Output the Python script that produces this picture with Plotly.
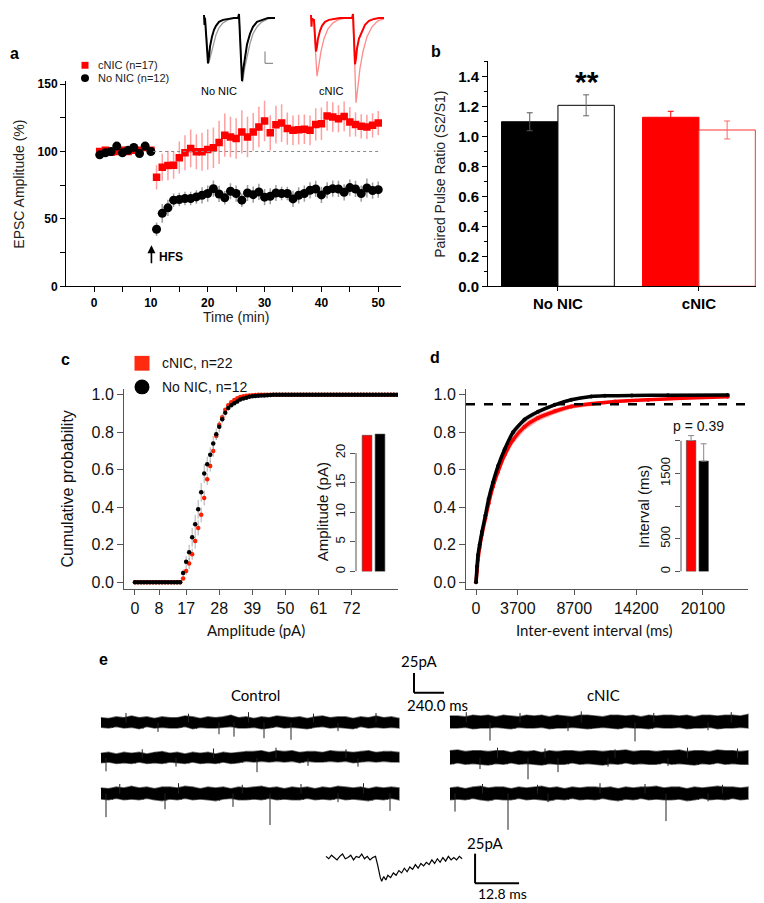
import plotly.graph_objects as go

W, H = 764, 903
ARIAL = "Liberation Sans, Arial, sans-serif"
CAL = "Lato, sans-serif"

# ---------------- Panel a: LTP time course ----------------
time_min = list(range(1, 51))
cnic_amp = [100, 101, 99.5, 100, 101, 100, 101, 101, 103, 101,
            80.8, 88.3, 89.6, 89.8, 95.4, 99.1, 102.3, 99.8, 99.8, 101.5,
            102.8, 106.7, 112.1, 110.8, 109.6, 114.5, 110.8, 114.5, 118.2, 122.6,
            113.8, 119.9, 121.1, 117.0, 115.7, 116.2, 116.5, 115.7, 120.1, 120.6,
            126.3, 125.5, 124.3, 126.0, 121.9, 120.1, 118.7, 118.2, 119.4, 121.1]
cnic_err = [2, 2, 2, 2, 2, 2, 2, 2, 2, 2,
            9, 10, 11, 10, 12, 13, 14, 13, 14, 15,
            15, 16, 16, 15, 15, 16, 15, 14, 15, 15,
            13, 14, 14, 12, 11, 11, 11, 11, 12, 12,
            11, 11, 10, 11, 11, 9, 9, 9, 9, 9]
nonic_amp = [97.5, 99, 100, 104, 99, 101, 103, 98.5, 104, 100,
             42.3, 54.1, 58.2, 63.9, 64.4, 65.1, 65.1, 66.3, 67.5, 68.8,
             72.4, 68.5, 65.6, 70.5, 68.8, 63.9, 69.2, 68.0, 70.0, 66.1,
             66.8, 69.2, 68.8, 68.8, 64.8, 67.5, 68.8, 71.2, 72.2, 67.8,
             71.2, 72.4, 72.2, 69.7, 73.2, 72.2, 68.8, 72.9, 71.0, 71.7]
nonic_err = [2, 2, 2, 2, 2, 2, 2, 2, 2, 2,
             5, 7, 6, 5, 5, 5, 5, 5, 6, 6,
             6, 6, 5, 6, 6, 5, 6, 6, 6, 6,
             6, 6, 5, 5, 6, 6, 6, 6, 6, 6,
             6, 6, 6, 6, 6, 6, 6, 7, 6, 6]
a_xticks = [0, 10, 20, 30, 40, 50]
a_yticks = [0, 50, 100, 150]

# example paired-pulse EPSC traces (inset of panel a)
nonic_tr_x = [6, 6.5, 7, 8, 9, 10, 11, 12, 14, 16, 18, 21, 25, 30, 36, 40, 41, 42, 43, 44, 45, 47, 49, 52, 55, 59, 64, 70, 77]
nonic_tr_y = [2, -8, -1, -15, -35, -47, -40, -30, -20, -13, -9, -5, -3, -2, -1, -1, 3, -20, -45, -65, -55, -40, -28, -17, -10, -5, -3, -1, -1]
nonic_tr2_x = [7, 8, 9, 10.5, 12, 14, 16, 18, 21, 25, 30, 36, 41, 42, 43, 44.5, 47, 49, 52, 55, 59, 64, 70, 77]
nonic_tr2_y = [-1, -12, -30, -47, -42, -33, -25, -18, -11, -6, -3, -1, -1, -15, -40, -66, -50, -40, -27, -17, -10, -5, -2, -1]
cnic_tr_x = [113, 113.5, 114, 116, 117, 118, 119, 120, 122, 124, 127, 131, 136, 142, 148, 154, 155, 156, 157, 158, 159, 161, 164, 167, 171, 176, 181, 186]
cnic_tr_y = [2, -10, -2, -3, -20, -35, -30, -22, -14, -9, -5, -3, -2, -1, -1, -1, 3, -25, -48, -42, -32, -22, -14, -8, -4, -2, -1, -1]
cnic_tr2_x = [114, 116, 117.5, 119, 121, 123, 126, 130, 135, 140, 148, 155, 156.5, 158, 160, 162, 165, 169, 174, 180, 186]
cnic_tr2_y = [-1, -5, -35, -60, -48, -35, -22, -12, -6, -3, -1, -1, -40, -87, -70, -52, -35, -20, -10, -4, -2]

# ---------------- Panel b: paired pulse ratio ----------------
ppr_groups = ["No NIC", "cNIC"]
ppr_filled = [1.10, 1.13]
ppr_filled_err = [0.06, 0.04]
ppr_open = [1.21, 1.045]
ppr_open_err = [0.07, 0.06]
b_yticks = [0.0, 0.2, 0.4, 0.6, 0.8, 1.0, 1.2, 1.4]

# ---------------- Panel c: amplitude cumulative ----------------
amp_pa = list(range(0, 88))
amp_cdf_nonic = [0, 0, 0, 0, 0, 0, 0, 0, 0, 0, 0, 0, 0, 0, 0, 0,
                 0.05, 0.11, 0.16, 0.24, 0.31, 0.39, 0.48, 0.58, 0.63, 0.68,
                 0.74, 0.79, 0.83, 0.87, 0.905, 0.93, 0.945, 0.955, 0.965, 0.975,
                 0.98, 0.985, 0.99, 0.992, 0.994, 0.995, 0.996, 0.997, 0.998, 0.999,
                 1, 1, 1, 1, 1, 1, 1, 1, 1, 1, 1, 1, 1, 1, 1, 1, 1, 1, 1, 1, 1,
                 1, 1, 1, 1, 1, 1, 1, 1, 1, 1, 1, 1, 1, 1, 1, 1, 1, 1, 1, 1, 1]
amp_cdf_cnic = [0, 0, 0, 0, 0, 0, 0, 0, 0, 0, 0, 0, 0, 0, 0, 0,
                0.02, 0.06, 0.10, 0.15, 0.22, 0.29, 0.36, 0.45, 0.55, 0.62,
                0.70, 0.78, 0.84, 0.88, 0.92, 0.945, 0.96, 0.972, 0.982, 0.988,
                0.992, 0.995, 0.997, 0.998, 0.999,
                1, 1, 1, 1, 1, 1, 1, 1, 1, 1, 1, 1, 1, 1, 1, 1, 1, 1, 1, 1, 1, 1, 1,
                1, 1, 1, 1, 1, 1, 1, 1, 1, 1, 1, 1, 1, 1, 1, 1, 1, 1, 1, 1, 1, 1, 1]
amp_err_nonic = [0, 0, 0, 0, 0, 0, 0, 0, 0, 0, 0, 0, 0, 0, 0, 0,
                 0.02, 0.03, 0.04, 0.05, 0.05, 0.05, 0.05, 0.05, 0.04, 0.04,
                 0.04, 0.03, 0.03, 0.02, 0.02, 0.015, 0.01, 0.01, 0.01, 0.01,
                 0.005, 0.005, 0.005, 0.005, 0, 0, 0, 0, 0, 0,
                 0, 0, 0, 0, 0, 0, 0, 0, 0, 0, 0, 0, 0, 0, 0, 0, 0, 0, 0, 0, 0,
                 0, 0, 0, 0, 0, 0, 0, 0, 0, 0, 0, 0, 0, 0, 0, 0, 0, 0, 0, 0, 0]
amp_err_cnic = [0, 0, 0, 0, 0, 0, 0, 0, 0, 0, 0, 0, 0, 0, 0, 0,
                0.01, 0.02, 0.03, 0.03, 0.04, 0.04, 0.04, 0.04, 0.03, 0.03,
                0.03, 0.02, 0.02, 0.02, 0.01, 0.01, 0.01, 0.005, 0.005, 0.005,
                0, 0, 0, 0, 0,
                0, 0, 0, 0, 0, 0, 0, 0, 0, 0, 0, 0, 0, 0, 0, 0, 0, 0, 0, 0, 0, 0, 0,
                0, 0, 0, 0, 0, 0, 0, 0, 0, 0, 0, 0, 0, 0, 0, 0, 0, 0, 0, 0, 0, 0, 0]
c_xticks = [0, 8, 17, 28, 39, 50, 61, 72]
cd_yticks = [0.0, 0.2, 0.4, 0.6, 0.8, 1.0]
amp_groups = ["cNIC", "No NIC"]
amp_means = [23.0, 23.2]
amp_inset_ticks = [0, 5, 10, 15, 20]

# ---------------- Panel d: inter-event interval cumulative ----------------
iei_ms_nonic = [0, 90, 180, 320, 530, 830, 1120, 1500, 1950, 2540, 3280, 4300, 5490, 6970, 8440, 10200, 11400, 13800, 17000, 22300]
iei_cdf_nonic = [0.0, 0.085, 0.146, 0.20, 0.27, 0.357, 0.445, 0.533, 0.62, 0.71, 0.80, 0.868, 0.91, 0.947, 0.974, 0.991, 0.995, 0.997, 0.998, 0.999]
iei_err_nonic = [0.0, 0.01, 0.012, 0.015, 0.015, 0.018, 0.02, 0.02, 0.02, 0.02, 0.018, 0.015, 0.012, 0.01, 0.008, 0.005, 0.004, 0.003, 0.003, 0.003]
iei_ms_cnic = [0, 90, 180, 320, 530, 830, 1120, 1500, 1950, 2540, 3280, 4300, 5490, 6970, 8440, 10200, 12300, 15250, 18200, 22300]
iei_cdf_cnic = [0.0, 0.06, 0.12, 0.185, 0.255, 0.34, 0.42, 0.51, 0.59, 0.68, 0.76, 0.83, 0.877, 0.912, 0.938, 0.952, 0.965, 0.974, 0.982, 0.99]
iei_err_cnic = [0.0, 0.01, 0.015, 0.02, 0.02, 0.022, 0.025, 0.025, 0.025, 0.025, 0.022, 0.02, 0.018, 0.015, 0.012, 0.01, 0.008, 0.007, 0.006, 0.005]
d_xticks = [0, 3700, 8700, 14200, 20100]
d_xticktext = ["0", "3700", "8700", "14200", "20100"]
iei_threshold = 0.95
int_groups = ["cNIC", "No NIC"]
int_means = [2005, 1690]
int_err = [75, 265]
int_ticks = [0, 500, 1000, 1500, 2000]
int_ticktext = ["0", "500", "", "1500", ""]

# ---------------- Panel e: sEPSC example traces ----------------
SWEEP_MS = 2384
ctrl_hi = [
    [6, 5, 7, 6, 8, 6, 7, 5, 7, 6, 6, 8, 7, 5, 7, 6, 7, 9, 6, 7, 5, 7, 6, 8, 7, 6, 7, 5, 7, 8, 6, 7, 7, 5, 7, 6, 8, 6, 7, 5],
    [6, 7, 5, 7, 6, 7, 5, 7, 8, 6, 7, 5, 7, 6, 7, 5, 7, 6, 7, 8, 8, 9, 7, 9, 8, 9, 7, 8, 8, 7, 9, 8, 8, 7, 8, 9, 7, 8, 8, 7],
    [7, 6, 8, 7, 9, 7, 8, 6, 8, 8, 7, 9, 8, 6, 8, 7, 8, 6, 8, 7, 8, 9, 7, 8, 6, 8, 7, 8, 6, 8, 7, 9, 8, 7, 8, 6, 8, 7, 8, 7],
]
ctrl_lo = [
    [-6, -7, -5, -7, -6, -8, -5, -7, -6, -7, -7, -5, -8, -6, -7, -7, -6, -5, -7, -7, -6, -8, -7, -5, -7, -6, -7, -8, -6, -5, -7, -6, -7, -8, -5, -7, -6, -7, -6, -7],
    [-6, -5, -7, -6, -7, -5, -7, -6, -7, -5, -6, -7, -5, -7, -6, -7, -5, -7, -6, -4, -5, -4, -5, -4, -5, -4, -6, -4, -5, -5, -4, -5, -4, -6, -5, -4, -5, -4, -5, -5],
    [-7, -8, -6, -8, -7, -8, -6, -8, -9, -7, -8, -6, -8, -7, -8, -9, -7, -6, -8, -8, -7, -8, -6, -8, -7, -8, -8, -6, -8, -7, -8, -6, -8, -7, -8, -9, -7, -8, -6, -8],
]
cnic_hi = [
    [8, 8, 7, 9, 8, 9, 7, 9, 8, 7, 9, 8, 9, 7, 9, 8, 7, 9, 9, 8, 7, 9, 9, 8, 9, 7, 9, 8, 9, 9, 8, 9, 7, 9, 9, 8, 9, 9, 8, 10],
    [9, 10, 8, 9, 9, 8, 9, 9, 7, 9, 8, 9, 7, 9, 8, 9, 9, 8, 9, 9, 8, 9, 9, 10, 8, 9, 9, 8, 9, 9, 10, 8, 9, 9, 8, 10, 9, 9, 8, 9],
    [7, 8, 6, 8, 9, 7, 8, 8, 6, 8, 7, 8, 9, 7, 8, 6, 8, 7, 8, 8, 7, 8, 6, 8, 7, 8, 8, 9, 7, 8, 8, 6, 8, 7, 8, 9, 8, 8, 7, 8],
]
cnic_lo = [
    [-7, -7, -6, -8, -7, -7, -6, -7, -8, -6, -7, -7, -6, -8, -7, -7, -6, -7, -8, -7, -6, -7, -8, -6, -7, -7, -8, -6, -7, -7, -6, -8, -7, -7, -6, -8, -7, -7, -6, -7],
    [-8, -6, -8, -7, -8, -9, -7, -8, -6, -8, -7, -8, -9, -7, -8, -8, -6, -8, -7, -8, -9, -7, -8, -6, -8, -7, -8, -8, -6, -8, -7, -8, -9, -7, -8, -6, -8, -7, -8, -8],
    [-8, -7, -8, -6, -8, -9, -7, -8, -8, -6, -8, -7, -8, -9, -7, -8, -6, -8, -7, -8, -6, -8, -9, -7, -8, -6, -8, -7, -8, -8, -7, -9, -8, -6, -8, -7, -8, -6, -8, -7],
]
ctrl_event_ms = [[456, 944, 1064, 1304, 1520, 1896], [40, 600, 1248, 1656, 2056], [40, 512, 1056, 1352, 1896, 2312]]
ctrl_event_pa = [[-12, -15, -18, -20, -22, -11], [-17, -11, -18, -10, -11], [-30, -20, -17, -40, -11, -22]]
cnic_event_ms = [[320, 944, 1480, 2064], [240, 624, 864, 1264, 1744], [40, 464, 784, 1728, 2064]]
cnic_event_pa = [[-23, -11, -24, -10], [-14, -27, -18, -11, -10], [-23, -46, -11, -35, -10]]
ctrl_up_ms = [[200, 700, 1180, 1700, 2200], [330, 900, 1400, 1960], [150, 620, 1130, 1600, 2100]]
ctrl_up_pa = [[12, 11, 13, 11, 12], [11, 12, 13, 11], [12, 13, 11, 12, 13]]
cnic_up_ms = [[130, 560, 1050, 1630, 2250], [380, 760, 1320, 1900, 2300], [260, 700, 1200, 1560, 2180]]
cnic_up_pa = [[13, 12, 14, 12, 13], [13, 12, 11, 13, 12], [12, 11, 13, 12, 11]]

# single averaged event
ev_ms = [0.0, 0.8, 1.6, 2.4, 3.2, 4.0, 4.8, 5.6, 6.4, 7.2, 8.0, 8.8, 9.6, 10.4, 11.2, 12.0, 12.8, 13.6, 14.4,
         15.0, 15.4, 15.8, 16.2, 16.8, 17.4, 18.0,
         18.8, 19.6, 20.4, 21.2, 22.0, 22.8, 23.6, 24.4, 25.2, 26.0, 26.8, 27.6, 28.4, 29.2, 30.0, 30.8,
         31.6, 32.4, 33.2, 34.0, 34.8, 35.6, 36.4, 37.2, 38.0, 38.8, 39.6]
ev_pa = [1, -1, 2, 0, -2, 1, 3, -1, 0, 2, -2, 1, 0, 3, -1, 1, -2, 0, 1,
         -6, -13, -17, -20, -16, -19, -15,
         -17, -13, -15, -11, -13, -9, -12, -8, -10, -6, -9, -5, -7, -4, -6, -2, -5, -1, -4, 0, -3, 1, -2, 0, -2, 1, -1]


def fx(px):
    return px / W


def fy(py):
    return 1 - py / H


fig = go.Figure()

# ---- panel a ----
fig.add_trace(go.Scatter(x=time_min, y=cnic_amp, mode="markers", xaxis="x", yaxis="y",
                         marker=dict(symbol="square", size=7.5, color="#ff0000"),
                         error_y=dict(type="data", array=cnic_err, color="rgba(255,80,80,0.55)", thickness=1.5, width=0)))
fig.add_trace(go.Scatter(x=time_min, y=nonic_amp, mode="markers", xaxis="x", yaxis="y",
                         marker=dict(symbol="circle", size=9, color="black"),
                         error_y=dict(type="data", array=nonic_err, color="rgba(90,90,90,0.6)", thickness=1.5, width=0)))
fig.add_trace(go.Scatter(x=nonic_tr2_x, y=nonic_tr2_y, mode="lines", xaxis="x9", yaxis="y9",
                         line=dict(color="#9a9a9a", width=1.3)))
fig.add_trace(go.Scatter(x=nonic_tr_x, y=nonic_tr_y, mode="lines", xaxis="x9", yaxis="y9",
                         line=dict(color="black", width=2)))
fig.add_trace(go.Scatter(x=cnic_tr2_x, y=cnic_tr2_y, mode="lines", xaxis="x9", yaxis="y9",
                         line=dict(color="#ff8a8a", width=1.3)))
fig.add_trace(go.Scatter(x=cnic_tr_x, y=cnic_tr_y, mode="lines", xaxis="x9", yaxis="y9",
                         line=dict(color="#ff0000", width=2)))

# ---- panel b ----
fill_colors = ["black", "#ff0000"]
fill_err_colors = ["#555555", "#ff0000"]
open_line_colors = ["black", "#ff3333"]
open_err_colors = ["#666666", "#ff6666"]
for i, g in enumerate(ppr_groups):
    fig.add_trace(go.Bar(x=[g], y=[ppr_filled[i]], xaxis="x2", yaxis="y2", offsetgroup="filled",
                         marker=dict(color=fill_colors[i], line=dict(color=fill_colors[i], width=1)),
                         error_y=dict(type="data", array=[ppr_filled_err[i]], color=fill_err_colors[i], thickness=1, width=3)))
    fig.add_trace(go.Bar(x=[g], y=[ppr_open[i]], xaxis="x2", yaxis="y2", offsetgroup="open",
                         marker=dict(color="white", line=dict(color=open_line_colors[i], width=1)),
                         error_y=dict(type="data", array=[ppr_open_err[i]], color=open_err_colors[i], thickness=1, width=3)))

# ---- panel c ----
fig.add_trace(go.Scatter(x=amp_pa, y=amp_cdf_cnic, mode="markers", xaxis="x3", yaxis="y3",
                         marker=dict(size=4.5, color="#ff2000"),
                         error_y=dict(type="data", array=amp_err_cnic, color="rgba(120,120,120,0.6)", thickness=1, width=0)))
fig.add_trace(go.Scatter(x=amp_pa, y=amp_cdf_nonic, mode="markers", xaxis="x3", yaxis="y3",
                         marker=dict(size=4.5, color="black"),
                         error_y=dict(type="data", array=amp_err_nonic, color="rgba(120,120,120,0.6)", thickness=1, width=0)))
fig.add_trace(go.Bar(x=amp_groups, y=amp_means, xaxis="x4", yaxis="y4", width=0.75,
                     marker=dict(color=["#ff0000", "black"], line=dict(color="#444", width=0.6))))

# ---- panel d ----
for xs, ys, es, band in [(iei_ms_cnic, iei_cdf_cnic, iei_err_cnic, "rgba(255,70,70,0.45)"),
                         (iei_ms_nonic, iei_cdf_nonic, iei_err_nonic, "rgba(90,90,90,0.45)")]:
    up = [y + e for y, e in zip(ys, es)]
    lo = [y - e for y, e in zip(ys, es)]
    fig.add_trace(go.Scatter(x=xs + xs[::-1], y=up + lo[::-1], mode="lines", fill="toself",
                             fillcolor=band, line=dict(width=0), xaxis="x5", yaxis="y5"))
for xs, ys, col in [(iei_ms_cnic, iei_cdf_cnic, "#ff0000"), (iei_ms_nonic, iei_cdf_nonic, "black")]:
    fig.add_trace(go.Scatter(x=xs, y=ys, mode="lines+markers", xaxis="x5", yaxis="y5",
                             line=dict(color=col, width=3.5, shape="spline", smoothing=0.6),
                             marker=dict(size=4, color=col)))
fig.add_trace(go.Bar(x=int_groups, y=int_means, xaxis="x6", yaxis="y6", width=0.75,
                     marker=dict(color=["#ff0000", "black"], line=dict(color="#444", width=0.6)),
                     error_y=dict(type="data", array=int_err, arrayminus=[0, 0], color="#888", thickness=1, width=3)))

# ---- panel e ----
ROWS = [-100, -145, -190]
CTRL_START, CNIC_START = 40, 2832
for starts, his, los, ev_t, ev_a, up_t, up_a in [
        (CTRL_START, ctrl_hi, ctrl_lo, ctrl_event_ms, ctrl_event_pa, ctrl_up_ms, ctrl_up_pa),
        (CNIC_START, cnic_hi, cnic_lo, cnic_event_ms, cnic_event_pa, cnic_up_ms, cnic_up_pa)]:
    for r in range(3):
        n = len(his[r])
        xs = [starts + SWEEP_MS * i / (n - 1) for i in range(n)]
        up = [ROWS[r] + v for v in his[r]]
        dn = [ROWS[r] + v for v in los[r]]
        fig.add_trace(go.Scatter(x=xs + xs[::-1], y=up + dn[::-1], mode="lines", fill="toself",
                                 fillcolor="black", line=dict(color="rgba(0,0,0,0.55)", width=1.6),
                                 xaxis="x7", yaxis="y7"))
        zx, zy = [], []
        for i in range(n - 1):
            zx += [xs[i], (xs[i] + xs[i + 1]) / 2]
            zy += [up[i], dn[i]]
        fig.add_trace(go.Scatter(x=zx, y=zy, mode="lines", line=dict(color="rgba(0,0,0,0.6)", width=0.8),
                                 xaxis="x7", yaxis="y7"))
        sx, sy = [], []
        for t, a in list(zip(ev_t[r], ev_a[r])) + list(zip(up_t[r], up_a[r])):
            sx += [starts + t, starts + t, None]
            sy += [ROWS[r], ROWS[r] + a, None]
        fig.add_trace(go.Scatter(x=sx, y=sy, mode="lines", line=dict(color="#222", width=1),
                                 xaxis="x7", yaxis="y7"))
EV_T0, EV_BASE = 2.33, -18.3
fig.add_trace(go.Scatter(x=[EV_T0 + t for t in ev_ms], y=[EV_BASE + v for v in ev_pa], mode="lines",
                         line=dict(color="black", width=1.2), xaxis="x8", yaxis="y8"))

# ---------------- layout ----------------
def ax_common(**kw):
    d = dict(showgrid=False, zeroline=False, showline=True, linecolor="black", linewidth=1,
             ticks="outside", tickcolor="black")
    d.update(kw)
    return d


bold12 = dict(family=ARIAL, size=12, color="black", weight="bold")
bold15 = dict(family=ARIAL, size=15, color="black", weight="bold")
reg16 = dict(family=ARIAL, size=16, color="#111")
reg13 = dict(family=ARIAL, size=13, color="#111")

layout = dict(
    width=W, height=H, margin=dict(l=0, r=0, t=0, b=0),
    paper_bgcolor="white", plot_bgcolor="rgba(0,0,0,0)", showlegend=False,
    barmode="group", bargap=0.2, bargroupgap=0,
    xaxis=ax_common(domain=[fx(58), fx(393)], range=[-4.93, 54.0], anchor="y", tickvals=a_xticks,
                    ticklen=5, tickfont=bold12,
                    minor=dict(ticks="outside", ticklen=5, dtick=5, tick0=-5, tickcolor="black")),
    yaxis=ax_common(domain=[fy(278), fy(70.3)], range=[0, 152], anchor="x", tickvals=a_yticks,
                    ticklen=5, tickfont=bold12,
                    minor=dict(ticks="outside", ticklen=5, dtick=25, tick0=0, tickcolor="black")),
    xaxis2=ax_common(domain=[fx(480), fx(762)], range=[-0.496, 1.504], anchor="y2", type="category",
                     ticklen=4, tickfont=dict(family=ARIAL, size=15, color="black", weight="bold")),
    yaxis2=ax_common(domain=[fy(278), fy(50)], range=[0, 1.504], anchor="x2", tickvals=b_yticks,
                     tickformat=".1f", ticklen=5, tickfont=bold15,
                     minor=dict(ticks="outside", ticklen=3, dtick=0.1, tick0=0, tickcolor="black")),
    xaxis3=ax_common(domain=[fx(116), fx(390)], range=[-3.65, 87.4], anchor="y3", tickvals=c_xticks,
                     ticklen=5, tickfont=reg16, linecolor="#555", tickcolor="#555"),
    yaxis3=ax_common(domain=[fy(585), fy(382)], range=[-0.0368, 1.0316], anchor="x3", tickvals=cd_yticks,
                     tickformat=".1f", ticklen=6, tickfont=reg16, linecolor="#555", tickcolor="#555"),
    xaxis4=dict(domain=[fx(348), fx(378.5)], range=[-0.85, 1.5], anchor="y4", type="category", visible=False),
    yaxis4=dict(domain=[fy(567), fy(426)], range=[0, 23.5], anchor="x4", showline=False, showgrid=False,
                zeroline=False, tickvals=amp_inset_ticks, ticks="outside", ticklen=5, tickcolor="#555",
                tickangle=-90, tickfont=reg13),
    xaxis5=ax_common(domain=[fx(458), fx(740)], range=[-886, 24090], anchor="y5", tickvals=d_xticks,
                     ticktext=d_xticktext, ticklen=5, tickfont=reg16, linecolor="#555", tickcolor="#555"),
    yaxis5=ax_common(domain=[fy(585), fy(382)], range=[-0.0368, 1.0316], anchor="x5", tickvals=cd_yticks,
                     tickformat=".1f", ticklen=6, tickfont=reg16, linecolor="#555", tickcolor="#555"),
    xaxis6=dict(domain=[fx(673), fx(702)], range=[-0.8, 1.5], anchor="y6", type="category", visible=False),
    yaxis6=dict(domain=[fy(567), fy(428)], range=[0, 2100], anchor="x6", showline=False, showgrid=False,
                zeroline=False, tickvals=int_ticks, ticktext=int_ticktext, ticks="outside", ticklen=5,
                tickcolor="#555", tickangle=-90, tickfont=reg13),
    xaxis7=dict(domain=[fx(88), fx(745)], range=[0, 5256], anchor="y7", visible=False),
    yaxis7=dict(domain=[fy(903), fy(640)], range=[-328.75, 0], anchor="x7", visible=False),
    xaxis8=dict(domain=[fx(310), fx(520)], range=[0, 61.1], anchor="y8", visible=False),
    yaxis8=dict(domain=[fy(903), fy(835)], range=[-56.7, 0], anchor="x8", visible=False),
    xaxis9=dict(domain=[fx(190), fx(380)], range=[0, 190], anchor="y9", visible=False),
    yaxis9=dict(domain=[fy(100), fy(0)], range=[-95, 5], anchor="x9", visible=False),
)
fig.update_layout(**layout)

shapes = [
    dict(type="line", xref="x", yref="y", x0=10.4, x1=50.3, y0=100, y1=100,
         line=dict(color="#888", width=1, dash="dot")),
    dict(type="rect", xref="paper", yref="paper", x0=fx(73.5), x1=fx(80.5), y0=fy(57.5), y1=fy(50.5),
         fillcolor="#ff0000", line=dict(width=0)),
    dict(type="circle", xref="paper", yref="paper", x0=fx(73), x1=fx(81), y0=fy(71), y1=fy(63),
         fillcolor="black", line=dict(width=0)),
    dict(type="line", xref="x9", yref="y9", x0=67, x1=67, y0=-35, y1=-47, line=dict(color="#777", width=1)),
    dict(type="line", xref="x9", yref="y9", x0=67, x1=75, y0=-47, y1=-47, line=dict(color="#777", width=1)),
    dict(type="rect", xref="paper", yref="paper", x0=fx(126.5), x1=fx(141.5), y0=fy(363.5), y1=fy(348.5),
         fillcolor="#ff2a10", line=dict(width=0)),
    dict(type="circle", xref="paper", yref="paper", x0=fx(126.5), x1=fx(141.5), y0=fy(387.5), y1=fy(372.5),
         fillcolor="black", line=dict(width=0)),
    dict(type="line", xref="x4 domain", yref="y4", x0=0, x1=0, y0=0, y1=20, line=dict(color="#555", width=1)),
    dict(type="line", xref="x6 domain", yref="y6", x0=0, x1=0, y0=0, y1=2000, line=dict(color="#555", width=1)),
    dict(type="line", xref="x5 domain", yref="y5", x0=0, x1=1, y0=iei_threshold, y1=iei_threshold,
         line=dict(color="black", width=2.5, dash="dash")),
    dict(type="line", xref="x7", yref="y7", x0=2544, x1=2544, y0=-37.5, y1=-62.5, line=dict(color="black", width=2)),
    dict(type="line", xref="x7", yref="y7", x0=2544, x1=2544 + 240, y0=-62.5, y1=-62.5, line=dict(color="black", width=2)),
    dict(type="line", xref="x8", yref="y8", x0=45.7, x1=45.7, y0=-15, y1=-40, line=dict(color="black", width=2)),
    dict(type="line", xref="x8", yref="y8", x0=45.7, x1=45.7 + 12.8, y0=-40, y1=-40, line=dict(color="black", width=2)),
]
fig.update_layout(shapes=shapes)


def ann(text, px, py, size, family=ARIAL, bold=False, angle=0, xanchor="center", color="black"):
    return dict(text=text, x=fx(px), y=fy(py), xref="paper", yref="paper", showarrow=False,
                xanchor=xanchor, yanchor="middle", textangle=angle,
                font=dict(family=family, size=size, color=color, weight="bold" if bold else "normal"))


annotations = [
    ann("a", 6, 42, 16, bold=True),
    ann("b", 428, 40, 16, bold=True),
    ann("c", 57, 352, 16, bold=True),
    ann("d", 427, 350, 16, bold=True),
    ann("e", 95, 656, 16, bold=True),
    ann("cNIC (n=17)", 88, 54, 11, xanchor="left", color="#222"),
    ann("No NIC (n=12)", 88, 67, 11, xanchor="left", color="#222"),
    ann("Time (min)", 228, 309, 14, color="#222"),
    ann("EPSC Amplitude (%)", 11, 175, 14, angle=-90, color="#222"),
    ann("HFS", 163, 248, 12, bold=True),
    ann("No NIC", 211, 80, 11),
    ann("cNIC", 323, 80, 11),
    dict(x=10.1, y=30.5, ax=10.1, ay=16, xref="x", yref="y", axref="x", ayref="y", text="",
         showarrow=True, arrowhead=2, arrowsize=1, arrowwidth=1.6, arrowcolor="black"),
    ann("Paired Pulse Ratio (S2/S1)", 432, 165, 14, angle=-90, color="#222"),
    ann("**", 579, 70, 30, bold=True),
    ann("cNIC, n=22", 152, 356, 14, xanchor="left", color="#111"),
    ann("No NIC, n=12", 152, 380, 14, xanchor="left", color="#111"),
    ann("Cumulative probability", 60, 484, 16, angle=-90, color="#111"),
    ann("Amplitude (pA)", 248, 626, 15, family=CAL, color="#111"),
    ann("Amplitude (pA)", 314, 507, 15, angle=-90, color="#111"),
    ann("Inter-event interval (ms)", 586, 626, 15, family=CAL, color="#111"),
    ann("Interval (ms)", 635, 502, 15, angle=-90, color="#111"),
    ann("p = 0.39", 690, 420, 14, color="#111"),
    ann("Control", 247, 692, 15, family=CAL),
    ann("cNIC", 595, 692, 15, family=CAL),
    ann("25pA", 412, 658, 15, family=CAL),
    ann("240.0 ms", 430, 702, 15, family=CAL),
    ann("25pA", 477, 842, 15, family=CAL),
    ann("12.8 ms", 494, 893, 14, family=CAL),
]
fig.update_layout(annotations=annotations)

fig.write_html("out.html")
